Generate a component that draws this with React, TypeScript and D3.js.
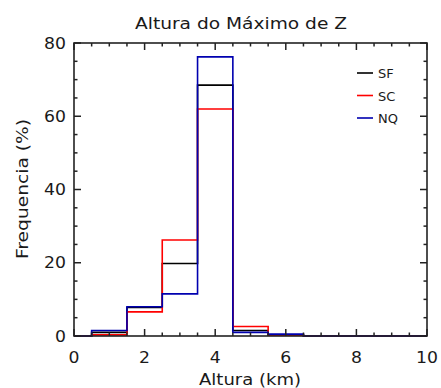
import React from "react";
import * as d3 from "d3";

const centers = [0, 1, 2, 3, 4, 5, 6, 7, 8, 9, 10];
const sfValues = [0, 1.0, 7.8, 19.8, 68.5, 1.5, 0.3, 0, 0, 0, 0];
const scValues = [0, 0.3, 6.6, 26.2, 62.0, 2.6, 0.2, 0, 0, 0, 0];
const nqValues = [0, 1.5, 8.0, 11.5, 76.2, 1.0, 0.5, 0, 0, 0, 0];
const seriesNames = ["SF", "SC", "NQ"];
const seriesColors = ["#000000", "#ff0000", "#0000b0"];
const xTicks = [0, 2, 4, 6, 8, 10];
const yTicks = [0, 20, 40, 60, 80];
const title = "Altura do Máximo de Z";
const xLabel = "Altura (km)";
const yLabel = "Frequencia (%)";

const W = 441, H = 388;
const L = 74, R = 427, T = 43, B = 336;
const font = "'DejaVu Sans', sans-serif";

export default function App() {
  const x = d3.scaleLinear().domain([0, 10]).range([L, R]);
  const y = d3.scaleLinear().domain([0, 80]).range([B, T]);
  const line = d3.line<number>().x((_, i) => x(centers[i])).y((d) => y(d)).curve(d3.curveStep);
  const all = [sfValues, scValues, nqValues];
  const xMinor = d3.range(0, 10.001, 0.5).filter((v) => !xTicks.includes(v));
  const yMinor = d3.range(0, 80.001, 5).filter((v) => !yTicks.includes(v));
  const ax = "#222";
  const tc = "#1a1a1a";
  return (
    <svg width={W} height={H} style={{ position: "absolute", left: 0, top: 0, background: "#fff" }}>
      <text x={241} y={29} textAnchor="middle" fontFamily={font} fontSize={15} fill={tc} textLength={212} lengthAdjust="spacingAndGlyphs">{title}</text>
      {all.map((vals, k) => (
        <path key={k} d={line(vals) || ""} fill="none" stroke={seriesColors[k]} strokeWidth={1.6} />
      ))}
      <rect x={L} y={T} width={R - L} height={B - T} fill="none" stroke={ax} strokeWidth={1.6} />
      {xTicks.map((v) => (
        <g key={"xt" + v}>
          <line x1={x(v)} x2={x(v)} y1={B} y2={B - 7} stroke={ax} strokeWidth={1.5} />
          <line x1={x(v)} x2={x(v)} y1={T} y2={T + 7} stroke={ax} strokeWidth={1.5} />
          <text transform={`translate(${x(v)},363) scale(1.15,1)`} textAnchor="middle" fontFamily={font} fontSize={15} fill={tc}>{v}</text>
        </g>
      ))}
      {xMinor.map((v) => (
        <g key={"xm" + v}>
          <line x1={x(v)} x2={x(v)} y1={B} y2={B - 3.5} stroke={ax} strokeWidth={1.5} />
          <line x1={x(v)} x2={x(v)} y1={T} y2={T + 3.5} stroke={ax} strokeWidth={1.5} />
        </g>
      ))}
      {yTicks.map((v) => (
        <g key={"yt" + v}>
          <line x1={L} x2={L + 7} y1={y(v)} y2={y(v)} stroke={ax} strokeWidth={1.5} />
          <line x1={R} x2={R - 7} y1={y(v)} y2={y(v)} stroke={ax} strokeWidth={1.5} />
          <text transform={`translate(66,${y(v) + 5.5}) scale(1.15,1)`} textAnchor="end" fontFamily={font} fontSize={15} fill={tc}>{v}</text>
        </g>
      ))}
      {yMinor.map((v) => (
        <g key={"ym" + v}>
          <line x1={L} x2={L + 3.5} y1={y(v)} y2={y(v)} stroke={ax} strokeWidth={1.5} />
          <line x1={R} x2={R - 3.5} y1={y(v)} y2={y(v)} stroke={ax} strokeWidth={1.5} />
        </g>
      ))}
      <text x={250} y={385} textAnchor="middle" fontFamily={font} fontSize={15} fill={tc} textLength={102} lengthAdjust="spacingAndGlyphs">{xLabel}</text>
      <text transform={`translate(28,189) rotate(-90)`} textAnchor="middle" fontFamily={font} fontSize={15} fill={tc} textLength={140} lengthAdjust="spacingAndGlyphs">{yLabel}</text>
      {seriesNames.map((n, k) => (
        <g key={n}>
          <line x1={357} x2={373} y1={73 + k * 22.5} y2={73 + k * 22.5} stroke={seriesColors[k]} strokeWidth={1.6} />
          <text x={378} y={73 + k * 22.5 + 5} fontFamily={font} fontSize={13} fill={tc}>{n}</text>
        </g>
      ))}
    </svg>
  );
}
